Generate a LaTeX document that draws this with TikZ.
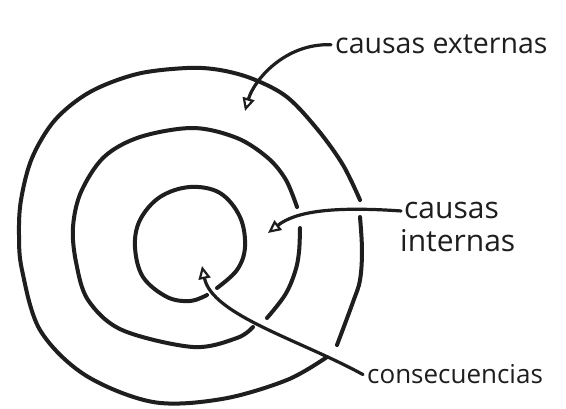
\documentclass[tikz,border=0pt]{standalone}
\usepackage{fontspec}
\setmainfont{Open Sans}
\usetikzlibrary{arrows.meta}
\definecolor{inkc}{HTML}{1E1E1E}
\begin{document}
\begin{tikzpicture}[x=1pt,y=-1pt,
  ring/.style={line width=4pt, draw=inkc, line cap=round, line join=round},
  lbl/.style={text=inkc, inner sep=0pt},
  ptr/.style={line width=3.2pt, draw=inkc, line cap=round,
    -{Triangle[open,length=13pt,width=12pt,line width=2.2pt,fill=white]}}]
\useasboundingbox (0,0) rectangle (566,409);
\fill[white] (0,0) rectangle (566,409);
% outer ring
\draw[ring] plot[smooth, tension=0.55] coordinates {(360,200) (343,165) (318,130) (287,97) (253,79) (220,70) (187,68) (137,74) (90,92) (55,120) (32,158) (21,200) (19,235) (22,270) (40,330) (85,375) (153,402) (222,399) (287,380) (327,357)};
\draw[ring] plot[smooth, tension=0.6] coordinates {(360,217) (362,250) (360,280) (353,302) (337,345)};
% middle ring
\draw[ring] plot[smooth, tension=0.55] coordinates {(297,207) (286,180) (268,158) (237,138) (193,128) (140,137) (104,157) (81,192) (73,227) (76,262) (88,300) (122,330) (193,347) (237,338) (253,327)};
\draw[ring] plot[smooth, tension=0.6] coordinates {(300,228) (299,252) (295,272) (285,295) (267,318)};
% inner ring
\draw[ring] plot[smooth, tension=0.6] coordinates {(217,288) (237,270) (245,247) (240,217) (220,193) (190,187) (160,197) (140,220) (135,247) (143,277) (167,297) (190,301) (207,295)};
% labels
\node[lbl, font=\fontsize{28.5}{32}\selectfont, anchor=base west] (ext) at (335,54) {causas externas};
\node[lbl, font=\fontsize{30}{34}\selectfont, anchor=base west] (cin1) at (404,219) {causas};
\node[lbl, font=\fontsize{30}{34}\selectfont, anchor=base west] (cin2) at (400,252) {internas};
\node[lbl, font=\fontsize{26}{30}\selectfont, anchor=base west] (cons) at (367,384) {consecuencias};
% tips
\coordinate (extTip) at (245,111);
\coordinate (cinTip) at (268,233);
\coordinate (consTip) at (202,266);
% pointers
\draw[ptr] ([xshift=-4pt]ext.west) .. controls (285,43) and (254,80) .. (extTip);
\draw[ptr] ([xshift=-3pt]cin1.west) .. controls (330,206) and (295,212) .. (cinTip);
\draw[ptr] ([xshift=-4pt]cons.west) .. controls (300,340) and (212,315) .. (consTip);
\end{tikzpicture}
\end{document}
